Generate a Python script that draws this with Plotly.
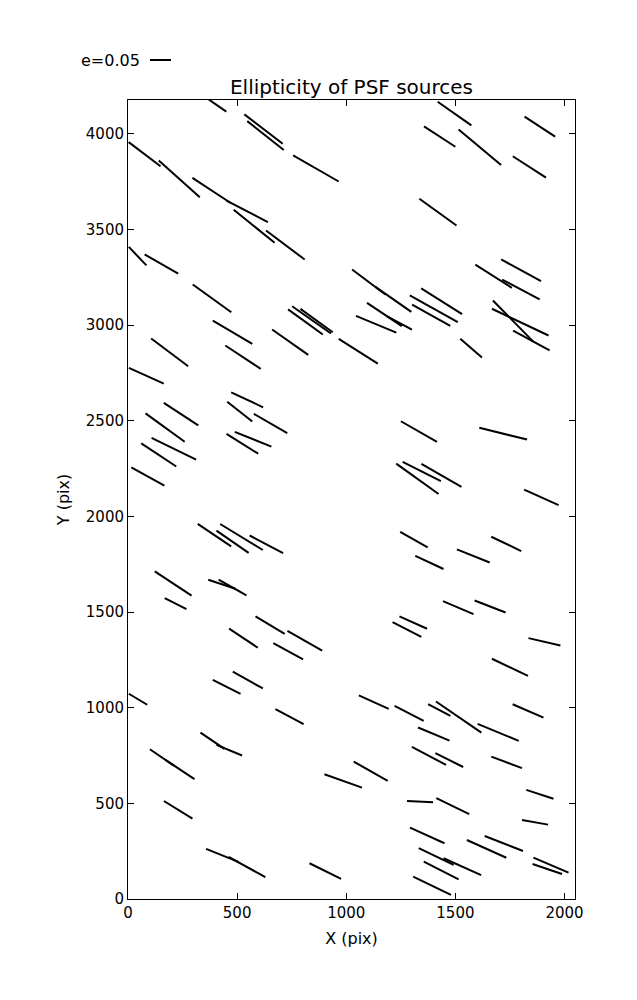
import math
import plotly.graph_objects as go

# ---- data: whisker centres (pix), ellipticity e, position angle (deg, on screen) ----
X_CENT = [410, 621, 630, 861, 76, 235, 382, 546, 578, 721, 44, 153, 385,
          1496, 1887, 1428, 1612, 1839, 1420, 1801, 1675, 1800, 1103, 1216, 1175, 1244,
          1401, 1437, 1137, 1389, 1055, 1572, 1765, 1797, 1848,
          479, 191, 527, 743, 813, 841, 864, 84, 546, 512, 653, 243, 170, 210, 141,
          573, 524, 91,
          1333, 1719, 1326, 1346, 1436, 1894,
          396, 520, 479, 634, 207, 218, 430, 479, 651, 810, 529, 734, 452, 549, 46,
          1310, 1381, 1582, 1733, 1513, 1659, 1307, 1278, 1908, 1750, 1126,
          740, 387, 464, 155, 238, 230, 986, 432, 545, 904,
          1288, 1426, 1515, 1833, 1401, 1696, 1379, 1472, 1735, 1112, 1887, 1338,
          1488, 1865, 1371, 1643, 1722, 1412, 1532, 1435, 1393, 1938, 1921]
Y_CENT = [4147, 4024, 3990, 3818, 3893, 3764, 3704, 3594, 3516, 3418, 3360, 3319, 3139,
          4105, 4037, 3985, 3929, 3826, 3590, 3286, 3255, 3186, 3225, 3134, 3055, 3011,
          3085, 3124, 3004, 3051, 2863, 2879, 3020, 3015, 2919,
          2962, 2857, 2832, 2910, 3016, 3027, 3023, 2735, 2609, 2547, 2485, 2534, 2464, 2353, 2321,
          2403, 2379, 2208,
          2443, 2432, 2196, 2234, 2214, 2099,
          1902, 1892, 1867, 1854, 1649, 1544, 1645, 1628, 1431, 1350, 1363, 1295, 1109, 1144, 1044,
          1878, 1759, 1793, 1856, 1523, 1529, 1445, 1409, 1344, 1211, 1029,
          953, 827, 778, 740, 677, 466, 617, 228, 167, 146,
          970, 988, 951, 983, 862, 871, 748, 726, 714, 668, 547, 509,
          485, 401, 332, 262, 290, 222, 169, 149, 69, 177, 157]
ELL = [0.051, 0.115, 0.111, 0.125, 0.095, 0.131, 0.108, 0.111, 0.125, 0.115, 0.061, 0.092, 0.113,
       0.098, 0.087, 0.089, 0.132, 0.094, 0.109, 0.108, 0.103, 0.101, 0.099, 0.104, 0.100, 0.067,
       0.131, 0.115, 0.104, 0.104, 0.110, 0.068, 0.138, 0.149, 0.099,
       0.109, 0.110, 0.101, 0.105, 0.102, 0.113, 0.095, 0.091, 0.084, 0.076, 0.092, 0.098, 0.115, 0.118, 0.100,
       0.094, 0.089, 0.090,
       0.099, 0.117, 0.124, 0.102, 0.110, 0.090,
       0.096, 0.119, 0.093, 0.090, 0.105, 0.058, 0.068, 0.076, 0.081, 0.095, 0.082, 0.081, 0.074, 0.082, 0.051,
       0.075, 0.074, 0.084, 0.079, 0.079, 0.079, 0.072, 0.077, 0.078, 0.095, 0.078,
       0.076, 0.069, 0.066, 0.069, 0.083, 0.080, 0.095, 0.083, 0.100, 0.084,
       0.078, 0.060, 0.131, 0.080, 0.081, 0.106, 0.092, 0.074, 0.078, 0.093, 0.068, 0.062,
       0.087, 0.063, 0.090, 0.103, 0.098, 0.092, 0.098, 0.093, 0.100, 0.091, 0.074]
THETA = [-34.8, -37.4, -38.4, -29.7, -37.1, -41.8, -33.3, -27.4, -38.8, -36.9, -46.6, -29.6, -35.8,
         -35.1, -33.1, -33.0, -40.1, -32.8, -35.8, -28.5, -32.4, -27.8, -36.9, -34.8, -33.8, -28.0,
         -29.3, -32.3, -22.6, -29.1, -32.3, -40.8, -45.5, -25.3, -28.7,
         -30.6, -36.8, -33.4, -35.1, -35.8, -35.0, -35.9, -24.2, -25.1, -38.2, -30.1, -33.1, -35.8, -25.9, -33.6,
         -21.8, -31.9, -28.8,
         -29.8, -13.8, -35.6, -26.8, -29.9, -24.3,
         -34.0, -31.4, -34.6, -27.7, -33.5, -26.9, -18.2, -29.5, -31.0, -29.6, -33.6, -28.7, -26.8, -29.1, -30.9,
         -29.4, -24.9, -21.7, -25.5, -23.2, -21.2, -24.2, -27.1, -13.1, -25.3, -24.2,
         -27.9, -34.2, -22.6, -34.3, -33.6, -31.7, -19.6, -21.9, -28.8, -26.3,
         -27.3, -27.7, -34.4, -23.4, -22.6, -22.5, -27.9, -26.3, -20.7, -29.6, -18.2, -2.9,
         -25.9, -10.2, -24.3, -24.2, -21.3, -25.5, -24.1, -26.7, -25.7, -23.2, -18.8]

KEY_E = 0.05
KEY_LABEL = "e=0.05"
X_MAX, Y_MAX = 2048, 4176
X_TICKS = [0, 500, 1000, 1500, 2000]
Y_TICKS = [0, 500, 1000, 1500, 2000, 2500, 3000, 3500, 4000]

# ---- layout geometry (page body has an 8px default margin) ----
W, H = 637, 1000
OFF = 8
ML, MT = 128 - OFF, 100 - OFF
PW, PH = 447, 799
MR, MB = W - ML - PW, H - MT - PH
SX, SY = PW / X_MAX, PH / Y_MAX          # px per data unit
K = 420.0                                # px per unit ellipticity

FONT = "DejaVu Sans"

xs, ys = [], []
for x, y, e, t in zip(X_CENT, Y_CENT, ELL, THETA):
    h = e * K / 2.0
    dx = h * math.cos(math.radians(t)) / SX
    dy = h * math.sin(math.radians(t)) / SY
    xs += [x - dx, x + dx, None]
    ys += [y - dy, y + dy, None]

fig = go.Figure()
fig.add_trace(go.Scatter(x=xs, y=ys, mode="lines",
                         line=dict(color="black", width=2),
                         hoverinfo="skip", showlegend=False))

axis_common = dict(showline=True, linecolor="black", linewidth=1, mirror="ticks",
                   ticks="inside", ticklen=6, tickwidth=1, tickcolor="black",
                   showgrid=False, zeroline=False,
                   tickfont=dict(family=FONT, size=15, color="black"))
fig.update_xaxes(range=[0, X_MAX], tickvals=X_TICKS, **axis_common,
                 title=dict(text="X (pix)", font=dict(family=FONT, size=16, color="black"),
                            standoff=11))
fig.update_yaxes(range=[0, Y_MAX], tickvals=Y_TICKS, **axis_common,
                 title=dict(text="Y (pix)", font=dict(family=FONT, size=16, color="black"),
                            standoff=12))

# key (quiverkey-like), positioned relative to the axes box
key_x0 = 22 / PW
key_x1 = key_x0 + KEY_E * K / PW
key_y = 1 + 40 / PH
fig.add_shape(type="line", xref="paper", yref="paper",
              x0=key_x0, x1=key_x1, y0=key_y, y1=key_y,
              line=dict(color="black", width=2))
fig.add_annotation(xref="paper", yref="paper", x=key_x0 - 8 / PW, y=key_y,
                   xanchor="right", yanchor="middle", showarrow=False,
                   text=KEY_LABEL, font=dict(family=FONT, size=16, color="black"))

fig.update_layout(
    width=W, height=H,
    margin=dict(l=ML, r=MR, t=MT, b=MB),
    paper_bgcolor="white", plot_bgcolor="white",
    title=dict(text="Ellipticity of PSF sources", x=0.5, xref="paper",
               y=1 - (87 - OFF) / H, yref="container", yanchor="middle",
               font=dict(family=FONT, size=20, color="black")),
    font=dict(family=FONT, color="black"),
)

fig.write_html("out.html")
